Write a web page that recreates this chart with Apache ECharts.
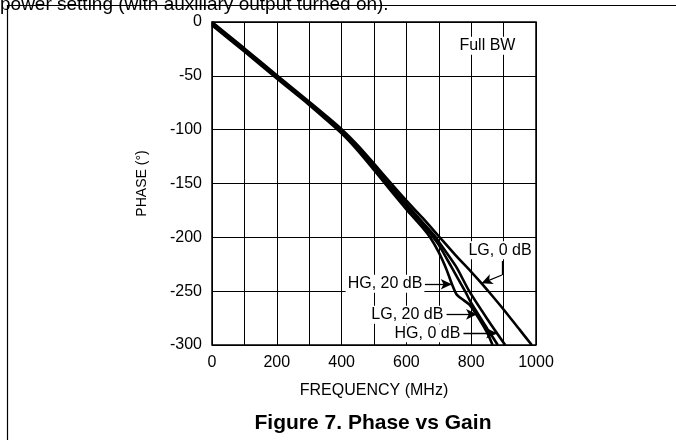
<!DOCTYPE html>
<html><head><meta charset="utf-8">
<script src="https://cdn.jsdelivr.net/npm/echarts@6/dist/echarts.min.js"></script>
<style>html,body{margin:0;padding:0;background:#fff}#c{width:676px;height:440px}</style>
</head><body><div id="c"></div>
<script>
// ---- data (frequency MHz, phase degrees) ----
const xTickLabels = [0, 200, 400, 600, 800, 1000];
const yTickLabels = [0, -50, -100, -150, -200, -250, -300];

const lg0dB  = [[0,0],[100,-24.5],[200,-49.5],[300,-74],[350,-86.5],[400,-99.5],[450,-114.5],[500,-131.5],[550,-149],[600,-166],[650,-182],[700,-199],[750,-216],[800,-232],[830,-242],[850,-249],[900,-267],[950,-286],[987,-300]];
const hg20dB = [[0,-3],[100,-27.5],[200,-52.5],[300,-77],[350,-90],[400,-103.5],[450,-119.5],[500,-137.5],[550,-156],[600,-174],[650,-191],[673,-200],[700,-214],[724,-230],[740,-243],[755,-253],[775,-258],[796,-263],[827,-277],[850,-289],[866,-300]];
const lg20dB = [[0,-2],[100,-26.5],[200,-51.5],[300,-76],[350,-89],[400,-102],[450,-118],[500,-135.5],[550,-154],[600,-171],[650,-188],[683,-200],[700,-207],[738,-227],[781,-250],[800,-261],[850,-285],[882,-300]];
const hg0dB  = [[0,-1],[100,-25.5],[200,-50.5],[300,-75],[350,-88],[400,-101],[450,-116.5],[500,-133.5],[550,-152],[600,-169],[650,-186],[691,-200],[700,-204],[753,-227],[794,-250],[850,-276],[905,-300]];

const labelTexts = ['Full BW', 'LG, 0 dB', 'HG, 20 dB', 'LG, 20 dB', 'HG, 0 dB'];
const labelAt = [[850,-22],[889,-212],[534,-243],[603,-272],[665,-289]];
// leader lines: [from, to, withArrow]
const leaders = [
  [[895,-222],[895,-235],false],
  [[895,-235],[832,-242.7],true],
  [[657,-243.6],[740,-243.6],true],
  [[724,-271.5],[818,-271.5],true],
  [[776,-289.1],[880,-289.1],true]
];

const FONT = 'Liberation Sans, Arial, Helvetica, sans-serif';
const chart = echarts.init(document.getElementById('c'), null, {renderer:'canvas'});

function lineSeries(name, data){
  return {name, type:'line', data, showSymbol:false, symbol:'none', smooth:0.25,
    lineStyle:{color:'#000', width:2.6}, z:5, animation:false};
}

const markLineData = leaders.map(l => [
  {coord:l[0], symbol:'none'},
  {coord:l[1], symbol: l[2] ? 'arrow' : 'none', symbolSize: l[2] ? [8,11] : 0}
]);

chart.setOption({
  animation:false,
  grid:{left:212, right:140, top:22, bottom:95, show:true, borderColor:'#000', borderWidth:1.5, backgroundColor:'transparent'},
  xAxis:{type:'value', min:0, max:1000, interval:100,
    name:'FREQUENCY (MHz)', nameLocation:'middle', nameGap:38,
    nameTextStyle:{fontFamily:FONT, fontSize:16, color:'#000'},
    axisLine:{show:false}, axisTick:{show:false},
    axisLabel:{fontFamily:FONT, fontSize:16, color:'#000', margin:10,
      formatter:v => xTickLabels.indexOf(v) >= 0 ? String(v) : ''},
    splitLine:{show:true, lineStyle:{color:'#000', width:1}}},
  yAxis:{type:'value', min:-300, max:0, interval:50,
    name:'PHASE (°)', nameLocation:'middle', nameGap:63, nameRotate:90,
    nameTextStyle:{fontFamily:FONT, fontSize:14, color:'#000'},
    axisLine:{show:false}, axisTick:{show:false},
    axisLabel:{fontFamily:FONT, fontSize:16, color:'#000', margin:10,
      formatter:v => yTickLabels.indexOf(v) >= 0 ? String(v) : ''},
    splitLine:{show:true, lineStyle:{color:'#000', width:1}}},
  series:[
    lineSeries('LG, 0 dB', lg0dB),
    lineSeries('HG, 20 dB', hg20dB),
    lineSeries('LG, 20 dB', lg20dB),
    lineSeries('HG, 0 dB', hg0dB),
    {type:'line', data:[], silent:true, z:6,
      markLine:{silent:true, animation:false, label:{show:false},
        lineStyle:{color:'#000', width:1.3, type:'solid'}, symbol:['none','arrow'],
        data:markLineData}}
  ]
});

const gfx = labelTexts.map((t,i) => {
  const p = chart.convertToPixel({gridIndex:0}, labelAt[i]);
  return {type:'text', x:p[0], y:p[1], z:50,
    style:{text:t, fontFamily:FONT, fontSize:16, fill:'#000', align:'center', verticalAlign:'middle',
      backgroundColor:'#fff', padding:[1,2]}};
});
gfx.push({type:'text', x:373, y:423, z:50,
  style:{text:'Figure 7. Phase vs Gain', fontFamily:FONT, fontSize:21, fontWeight:'bold', fill:'#000', align:'center', verticalAlign:'middle'}});
gfx.push({type:'text', x:0, y:14, z:40,
  style:{text:'power setting (with auxiliary output turned on).', fontFamily:FONT, fontSize:19, fill:'#000', align:'left', verticalAlign:'bottom'}});
gfx.push({type:'line', z:45, shape:{x1:7, y1:5.5, x2:676, y2:5.5}, style:{stroke:'#000', lineWidth:1.2}});
gfx.push({type:'line', z:45, shape:{x1:7.5, y1:5, x2:7.5, y2:440}, style:{stroke:'#000', lineWidth:1.2}});
chart.setOption({graphic:gfx});
</script>
</body></html>
